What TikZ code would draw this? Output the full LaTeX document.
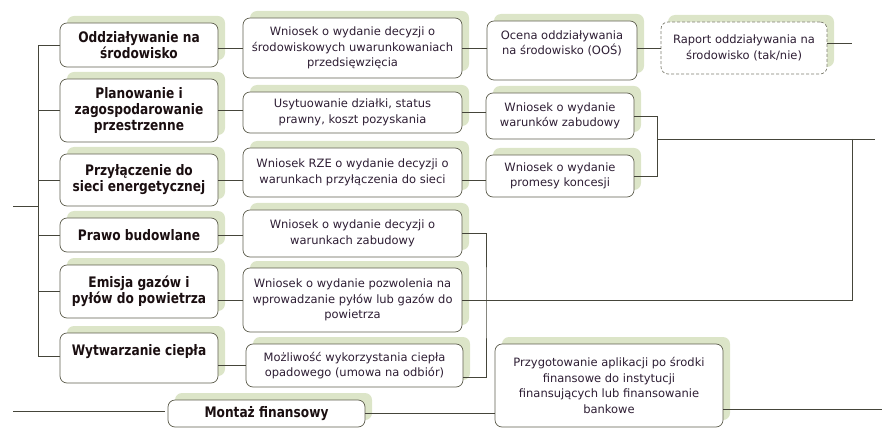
\documentclass[tikz,border=0pt]{standalone}
\usepackage{fontspec}
\setmainfont{DejaVu Sans}
\newfontfamily\headfont{DejaVu Sans}[FakeStretch=0.84]
\usetikzlibrary{shadows}
\definecolor{boxline}{HTML}{5E5E4E}
\definecolor{linecol}{HTML}{45453A}
\definecolor{glow}{HTML}{DCE5C8}
\definecolor{headtext}{HTML}{1A0E10}
\definecolor{tasktext}{HTML}{2E1E34}
\begin{document}
\begin{tikzpicture}[
        x=1pt, y=-1pt,
        card/.style={
            rectangle,
            draw=boxline,
            line width=0.7pt,
            rounded corners=7pt,
            fill=white,
            align=center,
            inner sep=2pt,
            drop shadow={shadow xshift=7pt, shadow yshift=7pt, fill=glow, opacity=1}
        },
        topic/.style={card, font=\headfont\bfseries\fontsize{14.5}{16}\selectfont, text=headtext},
        task/.style={card, font=\fontsize{11.5}{15.5}\selectfont, text=tasktext},
        link/.style={draw=linecol, line width=0.8pt}
    ]
    \useasboundingbox (0,0) rectangle (882,438);

    % free ends of the connectors
    \coordinate (in)   at (13,206);
    \coordinate (tr)   at (38,206);
    \coordinate (min)  at (13,411);
    \coordinate (rout) at (852,43);
    \coordinate (br)   at (657,139);
    \coordinate (rj)   at (852,139);
    \coordinate (rend) at (875,139);
    \coordinate (bj)   at (486,300);
    \coordinate (pout) at (882,409);

    % connectors (behind the boxes)
    \foreach \n/\y in {odd/45,plan/110.5,przyl/180,prawo/235,emisja/291.5,wytw/356}
        \draw[link] (60,\y) -| (tr);
    \draw[link] (in) -- (tr);
    \draw[link] (min) -- (165,411);

    % topics
    \node[topic, minimum width=158, minimum height=44] (odd)    at (139,45)    {Oddziaływanie na\\środowisko};
    \node[topic, minimum width=158, minimum height=63] (plan)   at (139,110.5) {Planowanie i\\zagospodarowanie\\przestrzenne};
    \node[topic, minimum width=158, minimum height=52] (przyl)  at (139,180)   {Przyłączenie do\\sieci energetycznej};
    \node[topic, minimum width=158, minimum height=34] (prawo)  at (139,235)   {Prawo budowlane};
    \node[topic, minimum width=158, minimum height=53] (emisja) at (139,291.5) {Emisja gazów i\\pyłów do powietrza};
    \node[topic, minimum width=158, minimum height=50] (wytw)   at (139,358)   {Wytwarzanie ciepła\\\mbox{}};
    \node[topic, minimum width=197, minimum height=27] (montaz) at (266.5,413.5) {Montaż finansowy};

    % tasks
    \node[task, minimum width=219, minimum height=60] (wn1)  at (352.5,48)    {Wniosek o wydanie decyzji o\\środowiskowych uwarunkowaniach\\przedsięwzięcia};
    \node[task, minimum width=219, minimum height=41] (usyt) at (352.5,112.5) {Usytuowanie działki, status\\prawny, koszt pozyskania};
    \node[task, minimum width=219, minimum height=49] (rze)  at (352.5,172.5) {Wniosek RZE o wydanie decyzji o\\warunkach przyłączenia do sieci};
    \node[task, minimum width=219, minimum height=47] (wn4)  at (352.5,233.5) {Wniosek o wydanie decyzji o\\warunkach zabudowy};
    \node[task, minimum width=219, minimum height=64] (wn5)  at (352.5,300)   {Wniosek o wydanie pozwolenia na\\wprowadzanie pyłów lub gazów do\\powietrza};
    \node[task, minimum width=217, minimum height=43] (mozl) at (354.5,365.5) {Możliwość wykorzystania ciepła\\opadowego (umowa na odbiór)};

    \node[task, minimum width=150, minimum height=59] (ocena)   at (562,50.5) {Ocena oddziaływania\\na środowisko (OOŚ)\\\mbox{}};
    \node[task, minimum width=148, minimum height=46] (warunk)  at (560,116)  {Wniosek o wydanie\\warunków zabudowy};
    \node[task, minimum width=148, minimum height=42] (promesy) at (560,176)  {Wniosek o wydanie\\promesy koncesji};
    \node[task, minimum width=228, minimum height=83] (przyg)   at (609,385.5) {Przygotowanie aplikacji po środki\\finansowe do instytucji\\finansujących lub finansowanie\\bankowe};
    \node[task, minimum width=166, minimum height=52, draw=boxline!80, dashed, dash pattern=on 3pt off 2pt] (raport) at (744,48) {Raport oddziaływania na\\środowisko (tak/nie)};

    % connectors between the boxes
    \draw[link] (odd.east |- wn1) -- (wn1.west);
    \draw[link] (plan.east) -- (plan.east -| usyt.west);
    \draw[link] (przyl.east) -- (przyl.east -| rze.west);
    \draw[link] (prawo.east) -- (prawo.east -| wn4.west);
    \draw[link] (emisja.east |- wn5) -- (wn5.west);
    \draw[link] (wytw.east |- mozl) -- (mozl.west);
    \draw[link] (montaz.east) -- (montaz.east -| przyg.west);

    \draw[link] (wn1.east) -- (wn1.east -| ocena.west);
    \draw[link] (ocena.east |- raport) -- (raport.west);
    \draw[link] (raport.east |- rout) -- (rout);
    \draw[link] (usyt.east) -- (usyt.east -| warunk.west);
    \draw[link] (rze.east |- przyl) -- (promesy.west |- przyl);
    \draw[link] (warunk.east) -| (br) |- (promesy.east);
    \draw[link] (br) -- (rend);
    \draw[link] (rj) |- (wn5.east);
    \draw[link] (wn4.east) -| (bj) |- ([yshift=-12pt]mozl.east);
    \draw[link] (przyg.east |- pout) -- (pout);

    \end{tikzpicture}
\end{document}
